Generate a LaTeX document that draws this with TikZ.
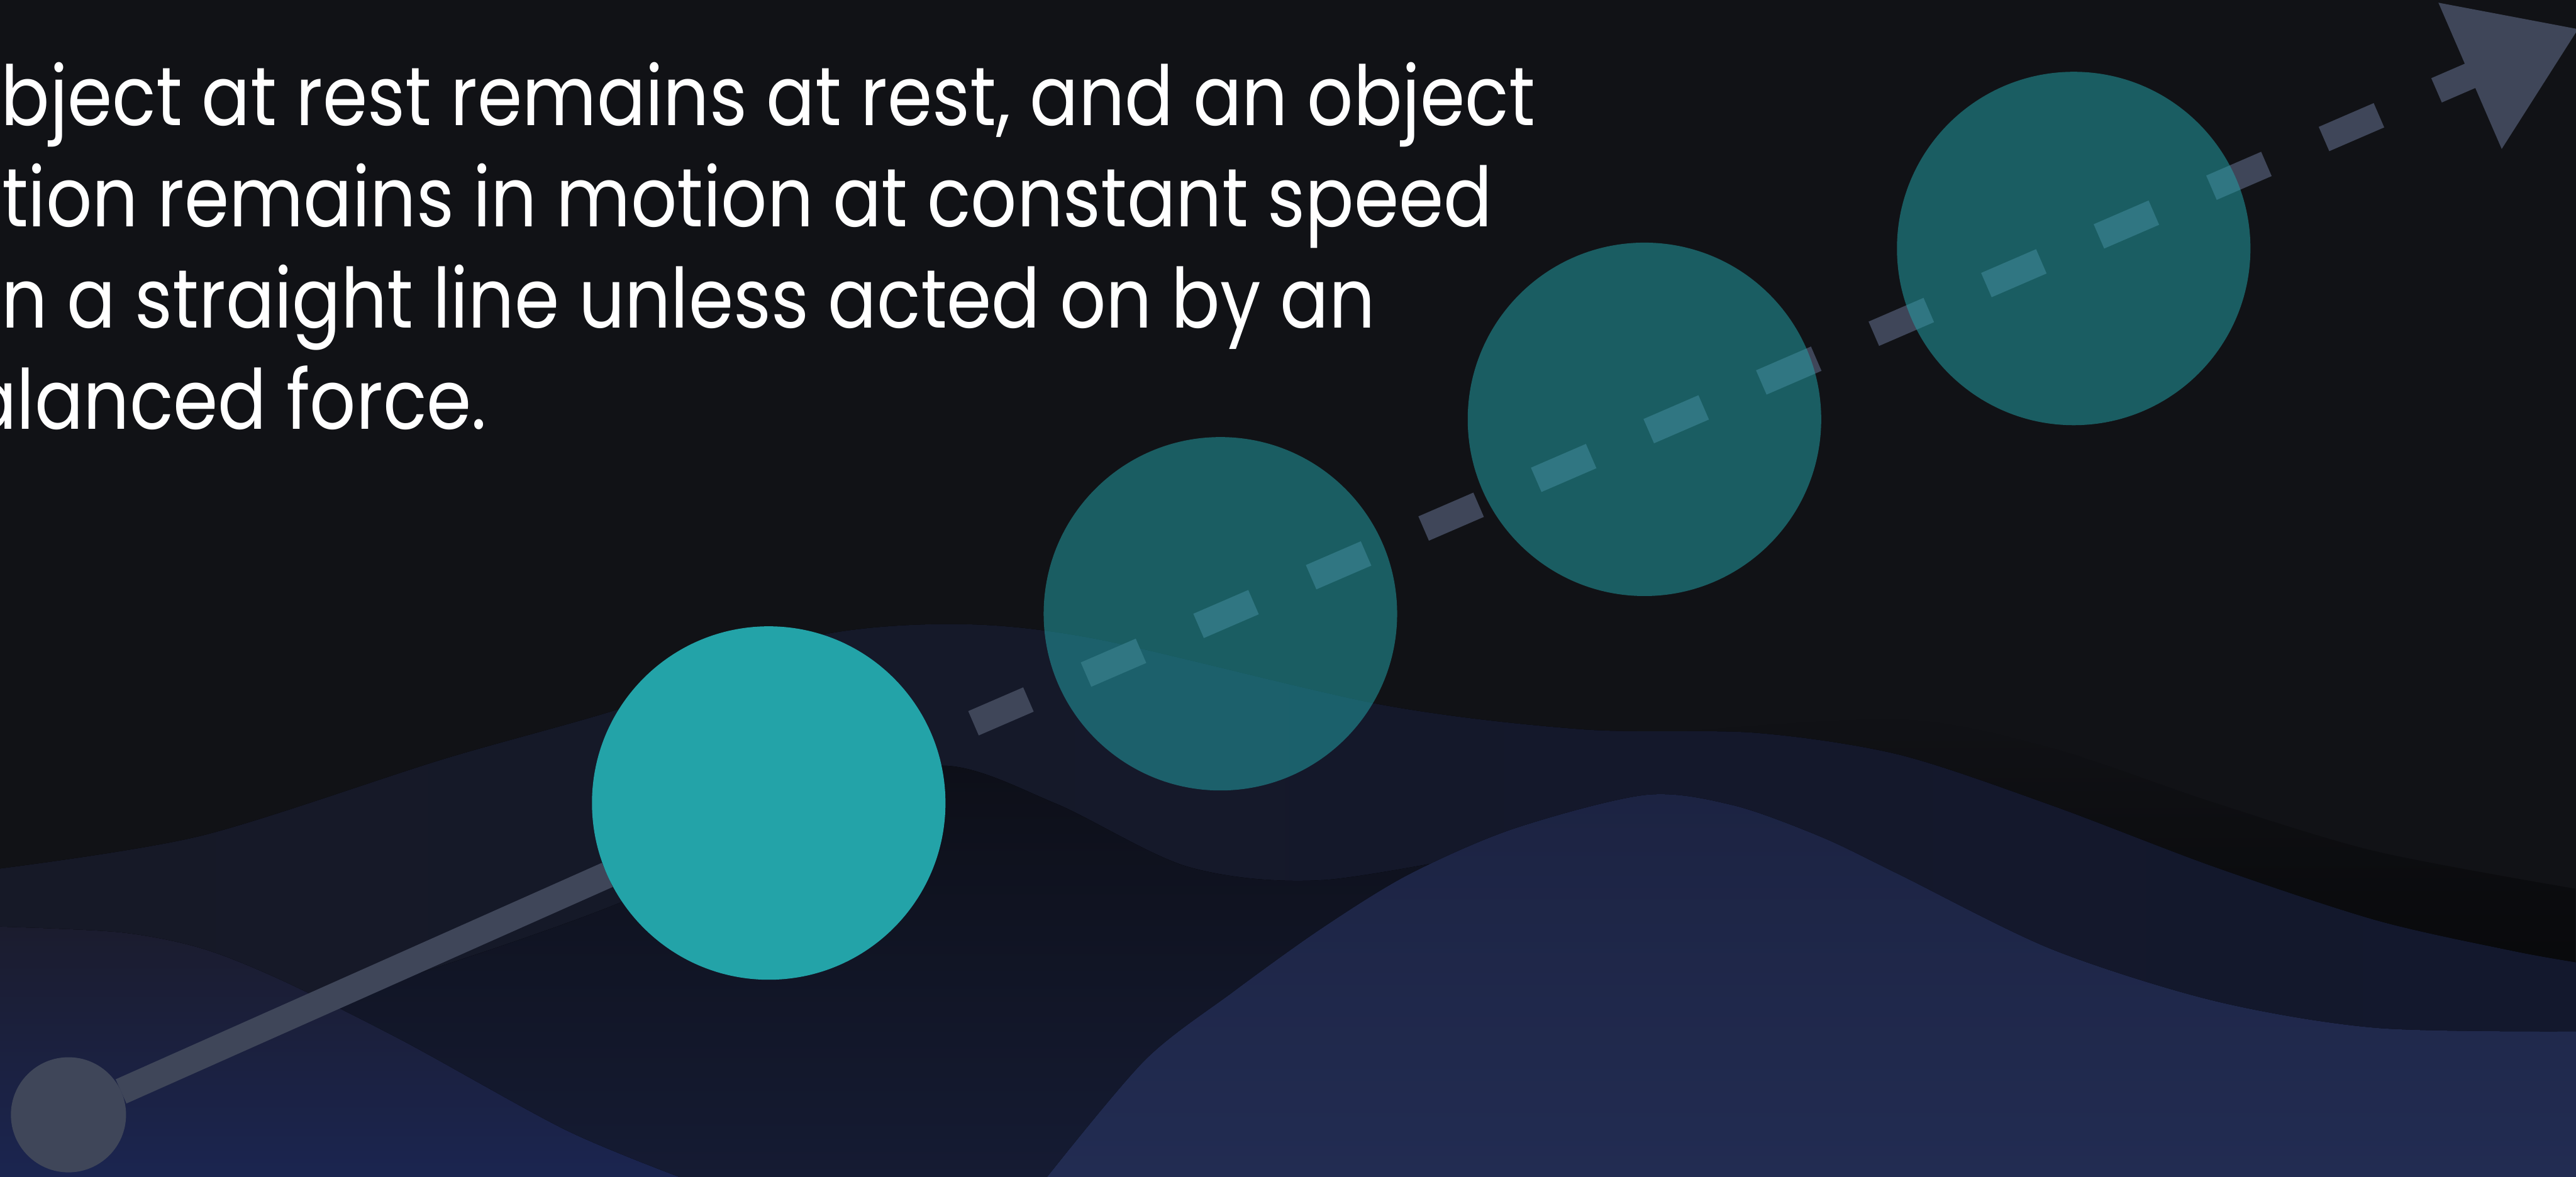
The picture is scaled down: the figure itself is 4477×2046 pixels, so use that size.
\documentclass[tikz,border=0pt]{standalone}
\usepackage{fontspec}
\setmainfont{Poppins}[FakeStretch=0.87]
\usetikzlibrary{arrows.meta, calc, fadings}
\definecolor{Law_Night}{HTML}{111216}
\definecolor{Law_Ridge}{HTML}{161927}
\definecolor{Law_Navy}{HTML}{13182D}
\definecolor{Law_Hollow}{HTML}{0D0F18}
\definecolor{Law_Deep}{HTML}{151B33}
\definecolor{Law_Dome}{HTML}{1B1C2E}
\definecolor{Law_Glow}{HTML}{1B2550}
\definecolor{Law_Swell}{HTML}{1C2342}
\definecolor{Law_Tide}{HTML}{222C52}
\definecolor{Law_Teal}{HTML}{23A3A8}
\definecolor{Law_Slate}{HTML}{3F4659}
\pgfdeclarelayer{waves}
\pgfdeclarelayer{track}
\pgfsetlayers{waves,track,main}

\begin{document}
\begin{tikzpicture}[
    x=0.01cm, y=-0.01cm,
    lawtext/.style={text=white, font=\fontsize{41}{50}\selectfont, inner sep=0pt, outer sep=0pt, anchor=base east},
    ball/.style={circle, fill=Law_Teal, minimum size=6.14cm, inner sep=0pt, outer sep=0pt},
    ghost/.style={ball, fill opacity=0.52},
    pin/.style={circle, fill=Law_Slate, minimum size=2.0cm, inner sep=0pt, outer sep=0pt},
    track/.style={draw=Law_Slate, line width=0.46cm},
    gaps/.style={dash pattern=on 1.04cm off 1.09cm, dash phase=0.435cm}
]
\useasboundingbox (0,0) rectangle (4477,2046);

\begin{pgfonlayer}{waves}
\fill[Law_Night] (0,0) rectangle (4477,2046);
\fill[black, opacity=0.45, path fading=north] plot[smooth] coordinates {(2900,1274) (3300,1250) (3565,1300) (3848,1395) (4130,1480) (4477,1545)} -- plot[smooth] coordinates {(4477,1673) (4366,1653) (4130,1600) (3848,1507) (3565,1400) (3300,1312) (3050,1274) (2900,1274)} -- cycle;
\fill[left color=Law_Ridge, right color=Law_Navy] plot[smooth] coordinates {(0,1510) (350,1453) (770,1320) (1100,1225) (1400,1110) (1650,1085) (1900,1110) (2400,1225) (2750,1268) (3050,1274) (3300,1312) (3565,1400) (3848,1507) (4130,1600) (4366,1653) (4477,1673)} -- (4477,2046) -- (0,2046) -- cycle;
\fill[top color=Law_Hollow, bottom color=Law_Deep] plot[smooth] coordinates {(350,1790) (701,1700) (1100,1560) (1400,1400) (1637,1331) (1835,1397) (2065,1507) (2300,1530) (2650,1470)} -- (2650,2046) -- (350,2046) -- cycle;
\fill[top color=Law_Dome, middle color=Law_Dome!55!Law_Glow, bottom color=Law_Glow] plot[smooth] coordinates {(0,1611) (210,1621) (351,1649) (491,1705) (701,1810) (982,1964) (1180,2046)} -- (0,2046) -- cycle;
\fill[top color=Law_Swell, bottom color=Law_Tide] plot[smooth] coordinates {(1820,2046) (1990,1843) (2141,1726) (2294,1616) (2447,1521) (2630,1441) (2860,1382) (3012,1400) (3165,1455) (3300,1520) (3565,1650) (3848,1740) (4130,1787) (4477,1793)} -- (4477,2046) -- cycle;
\end{pgfonlayer}

\node[lawtext] (law1) at (2668,218) {An object at rest remains at rest, and an object};
\node[lawtext] (law2) at (2594,394) {in motion remains in motion at constant speed};
\node[lawtext] (law3) at (2390,570) {and in a straight line unless acted on by an};
\node[lawtext] (law4) at (846,746) {unbalanced force.};

\node[pin] (dot) at (119,1938) {};
\node[ball] (c1) at (1336,1396) {};
\node[ghost] (c2) at (2121,1067) {};
\node[ghost] (c3) at (2858,729) {};
\node[ghost] (c4) at (3604,432) {};
\coordinate (tip) at (4482,50);
\coordinate (launch) at ($(dot.center)!0.28!(tip)$);

\begin{pgfonlayer}{track}
\draw[track] (dot) -- (c1);
\draw[track, gaps, -{Triangle[length=2.06cm, width=2.64cm]}] (launch) -- (tip);
\end{pgfonlayer}
\end{tikzpicture}
\end{document}
